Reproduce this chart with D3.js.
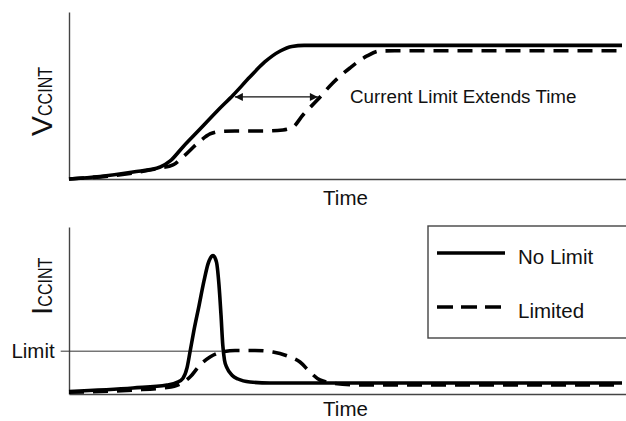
<!DOCTYPE html>
<html>
<head>
<meta charset="utf-8">
<script src="https://cdn.jsdelivr.net/npm/d3@7/dist/d3.min.js"></script>
<style>
  body { margin: 0; background: #fff; }
  text { font-family: "Liberation Sans", Arial, sans-serif; fill: #111; }
</style>
</head>
<body>
<svg id="chart" width="626" height="421"></svg>
<script>
// time runs 0..100 across both panels
// top panel: VCCINT (1 = full supply)
const vTimeNoLimit = [0, 5.6, 11.6, 16.5, 18.3, 20.6, 23.7, 26.8, 29.7, 32.7, 35.4, 38.2, 40.3, 42.5, 100];
const vNoLimit     = [0, 0.019, 0.052, 0.09, 0.135, 0.24, 0.374, 0.509, 0.629, 0.763, 0.876, 0.958, 0.992, 1.0, 1.0];
const vTimeLimited = [0, 11.6, 16.5, 18.8, 20.6, 23.7, 25.5, 27.3, 30.0, 34.5, 38.7, 40.5, 42.3, 44.9, 47.7, 50.8, 53.9, 56.2, 58.9, 100];
const vLimited     = [0, 0.045, 0.082, 0.105, 0.165, 0.284, 0.337, 0.356, 0.359, 0.359, 0.367, 0.389, 0.479, 0.591, 0.719, 0.831, 0.921, 0.958, 0.96, 0.96];

// bottom panel: ICCINT (1 = current limit)
const iTimeNoLimit = [0, 11.57, 17.72, 19.53, 20.61, 21.34, 21.88, 22.6, 23.51, 24.41, 25.14, 25.59, 26.04, 26.67, 27.12, 27.49, 27.81, 28.12, 28.57, 29.48, 30.56, 32.73, 36.35, 100];
const iNoLimit     = [0.06, 0.14, 0.21, 0.27, 0.37, 0.61, 0.98, 1.49, 2.06, 2.64, 3.04, 3.18, 3.235, 3.08, 2.55, 1.84, 1.14, 0.79, 0.61, 0.44, 0.35, 0.28, 0.257, 0.257];
const iTimeLimited = [0, 11.57, 17.72, 20.07, 21.88, 23.69, 25.5, 27.31, 30.02, 33.63, 36.89, 39.96, 41.77, 43.58, 45.39, 48.1, 52.62, 100];
const iLimited     = [0.04, 0.093, 0.152, 0.234, 0.397, 0.677, 0.864, 0.969, 1.016, 1.016, 0.981, 0.864, 0.747, 0.514, 0.327, 0.245, 0.21, 0.21];

const limitLevel = 1.0;
const limitSpan = [-1.5, 27.6];          // where the limit guide is drawn
const arrowSpan = [30.0, 45.0];          // "extends time" arrow
const arrowLevel = 0.614;

const seriesNames = ['No Limit', 'Limited'];
const annotation = 'Current Limit Extends Time';
const xLabel = 'Time';

const svg = d3.select('#chart');
const W = 626;

const x = d3.scaleLinear().domain([0, 100]).range([69, 622]);
const xAxisScale = x.copy().domain([0, x.invert(W)]).range([69, W]);
const yV = d3.scaleLinear().domain([0, 1.25]).range([179, 12]);
const yI = d3.scaleLinear().domain([0, 3.9]).range([394, 227]);

const dash = '15,9';

svg.append('defs').append('marker')
    .attr('id', 'head')
    .attr('viewBox', '0 0 10 10')
    .attr('refX', 10).attr('refY', 5)
    .attr('markerWidth', 10).attr('markerHeight', 8)
    .attr('markerUnits', 'userSpaceOnUse')
    .attr('orient', 'auto-start-reverse')
    .append('path').attr('d', 'M0,0L10,5L0,10Z').attr('fill', '#111');

function drawAxes(y, labelGap) {
    svg.append('g').attr('transform', `translate(${x(0)},0)`)
        .call(d3.axisLeft(y).tickValues([]).tickSizeOuter(0))
        .select('.domain').attr('stroke', '#444').attr('stroke-width', 1.4);
    svg.append('g').attr('transform', `translate(0,${y(0)})`)
        .call(d3.axisBottom(xAxisScale).tickValues([]).tickSizeOuter(0))
        .select('.domain').attr('stroke', '#444').attr('stroke-width', 1.4);
    svg.append('text')
        .attr('x', (x(0) + x(100)) / 2)
        .attr('y', y(0) + labelGap)
        .attr('text-anchor', 'middle')
        .attr('font-size', 20.5)
        .text(xLabel);
}

function drawCurve(t, vals, y, dashed) {
    const line = d3.line()
        .x(i => x(t[i]))
        .y(i => y(vals[i]))
        .curve(d3.curveMonotoneX);
    svg.append('path')
        .attr('d', line(d3.range(t.length)))
        .attr('fill', 'none')
        .attr('stroke', '#000')
        .attr('stroke-width', 3.6)
        .attr('stroke-dasharray', dashed ? dash : null);
}

function yLabel(main, sub, cx, cy) {
    const g = svg.append('g').attr('transform', `translate(${cx},${cy}) rotate(-90)`);
    g.append('text').attr('x', 0).attr('y', 0).attr('font-size', 30).text(main);
    const mw = g.select('text').node().getComputedTextLength();
    g.append('text').attr('x', mw).attr('y', 0).attr('font-size', 19.5)
        .attr('textLength', 49).attr('lengthAdjust', 'spacingAndGlyphs').text(sub);
}

// ---- top panel
drawAxes(yV, 26);
drawCurve(vTimeNoLimit, vNoLimit, yV, false);
drawCurve(vTimeLimited, vLimited, yV, true);
svg.append('line')
    .attr('x1', x(arrowSpan[0])).attr('x2', x(arrowSpan[1]))
    .attr('y1', yV(arrowLevel)).attr('y2', yV(arrowLevel))
    .attr('stroke', '#111').attr('stroke-width', 1.2)
    .attr('marker-start', 'url(#head)').attr('marker-end', 'url(#head)');
svg.append('text')
    .attr('x', x(50.8)).attr('y', yV(arrowLevel) + 6.5)
    .attr('font-size', 18.8)
    .text(annotation);
yLabel('V', 'CCINT', 52, 136);

// ---- bottom panel
drawAxes(yI, 22);
svg.append('line')
    .attr('x1', x(limitSpan[0])).attr('x2', x(limitSpan[1]))
    .attr('y1', yI(limitLevel)).attr('y2', yI(limitLevel))
    .attr('stroke', '#333').attr('stroke-width', 1);
svg.append('text')
    .attr('x', x(limitSpan[0]) - 6).attr('y', yI(limitLevel) + 7)
    .attr('text-anchor', 'end')
    .attr('font-size', 20.5)
    .text('Limit');
drawCurve(iTimeNoLimit, iNoLimit, yI, false);
drawCurve(iTimeLimited, iLimited, yI, true);
yLabel('I', 'CCINT', 52, 315);

// legend
const lg = svg.append('g').attr('transform', 'translate(428,226)');
lg.append('rect').attr('x', 0).attr('y', 0).attr('width', 220).attr('height', 112)
    .attr('fill', '#fff').attr('stroke', '#444').attr('stroke-width', 1.4);
seriesNames.forEach((name, i) => {
    const ly = 27 + i * 54;
    lg.append('line').attr('x1', 9).attr('x2', 77).attr('y1', ly).attr('y2', ly)
        .attr('stroke', '#000').attr('stroke-width', 3.6)
        .attr('stroke-dasharray', i === 1 ? '16,8' : null);
    lg.append('text').attr('x', 90).attr('y', ly + 11)
        .attr('font-size', 20.5).text(name);
});
</script>
</body>
</html>
